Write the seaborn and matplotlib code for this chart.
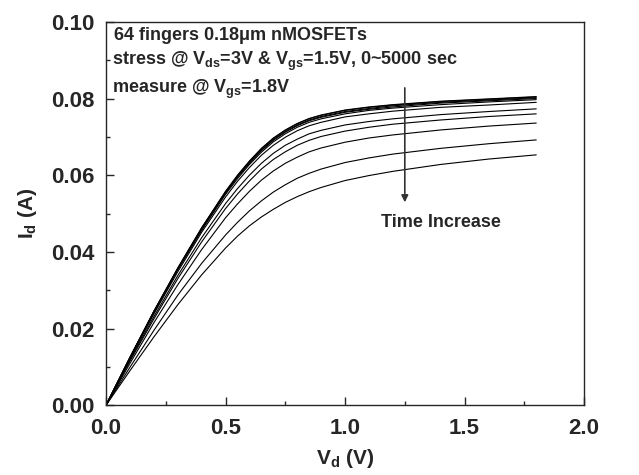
import matplotlib
matplotlib.use('Agg')
import matplotlib.pyplot as plt
import seaborn as sns
import pandas as pd
import numpy as np
from matplotlib.ticker import MultipleLocator

# drain voltage sample points (V)
vd = [0.0, 0.1, 0.2, 0.3, 0.4, 0.5, 0.55, 0.6, 0.65, 0.7, 0.75, 0.8, 0.85, 0.9, 1.0, 1.1, 1.2, 1.4, 1.6, 1.8]

# Id-Vd curves (A), fresh device first, then increasing stress time
id_0 = [0, .0125, .0245, .0358, .0463, .0558, .0600, .0637, .0670, .0697, .0718, .0735, .0748, .0757, .0770, .0778, .0784, .0793, .0799, .0805]
id_1 = [0, .0125, .0245, .0357, .0462, .0557, .0599, .0636, .0669, .0696, .0717, .0734, .0747, .0756, .0769, .0777, .0783, .0792, .0798, .0804]
id_2 = [0, .0124, .0244, .0356, .0461, .0555, .0597, .0634, .0666, .0693, .0714, .0731, .0744, .0753, .0766, .0774, .0781, .0790, .0796, .0802]
id_3 = [0, .0124, .0243, .0355, .0459, .0553, .0595, .0631, .0664, .0691, .0712, .0729, .0742, .0751, .0764, .0772, .0778, .0788, .0794, .0800]
id_4 = [0, .0123, .0241, .0353, .0456, .0550, .0591, .0628, .0660, .0687, .0708, .0725, .0738, .0747, .0760, .0769, .0775, .0784, .0791, .0797]
id_5 = [0, .0122, .0238, .0348, .0451, .0543, .0584, .0620, .0652, .0678, .0699, .0716, .0729, .0738, .0752, .0760, .0767, .0777, .0783, .0790]
id_6 = [0, .0118, .0231, .0338, .0437, .0526, .0565, .0600, .0631, .0657, .0678, .0694, .0708, .0717, .0731, .0740, .0747, .0758, .0766, .0773]
id_7 = [0, .0115, .0225, .0330, .0426, .0513, .0551, .0585, .0616, .0641, .0661, .0678, .0691, .0701, .0715, .0725, .0733, .0744, .0753, .0760]
id_8 = [0, .0109, .0215, .0314, .0406, .0489, .0525, .0558, .0587, .0611, .0631, .0647, .0661, .0671, .0686, .0697, .0705, .0718, .0728, .0736]
id_9 = [0, .0099, .0195, .0287, .0370, .0444, .0477, .0507, .0533, .0556, .0575, .0592, .0605, .0616, .0633, .0645, .0655, .0670, .0682, .0692]
id_10 = [0, .0090, .0178, .0262, .0340, .0410, .0441, .0468, .0491, .0511, .0529, .0544, .0557, .0568, .0586, .0599, .0610, .0628, .0642, .0653]

curves = [id_0, id_1, id_2, id_3, id_4, id_5, id_6, id_7, id_8, id_9, id_10]

sns.set_style('ticks')
plt.rcParams['font.family'] = ['Liberation Sans', 'DejaVu Sans']
plt.rcParams['font.weight'] = 'bold'
plt.rcParams['mathtext.fontset'] = 'custom'
plt.rcParams['mathtext.rm'] = 'Liberation Sans:bold'
plt.rcParams['mathtext.bf'] = 'Liberation Sans:bold'
plt.rcParams['mathtext.it'] = 'Liberation Sans:bold'

# long-form table for seaborn
df = pd.DataFrame({
    'vd': np.tile(vd, len(curves)),
    'id': np.concatenate(curves),
    'curve': np.repeat(np.arange(len(curves)), len(vd)),
})

fig = plt.figure(figsize=(6.39, 4.75), dpi=100)
ax = fig.add_axes([0.166, 0.147, 0.748, 0.807])

sns.lineplot(data=df, x='vd', y='id', hue='curve', units='curve', estimator=None,
             palette=['black'] * len(curves), linewidth=0.8, legend=False, ax=ax)

ax.set_xlim(0, 2.0)
ax.set_ylim(0, 0.10)
ax.xaxis.set_major_locator(MultipleLocator(0.5))
ax.xaxis.set_minor_locator(MultipleLocator(0.25))
ax.yaxis.set_major_locator(MultipleLocator(0.02))
ax.yaxis.set_minor_locator(MultipleLocator(0.01))
ax.xaxis.set_major_formatter(plt.FormatStrFormatter('%.1f'))
ax.yaxis.set_major_formatter(plt.FormatStrFormatter('%.2f'))
ax.tick_params(which='both', direction='in', top=False, right=False, width=1)
ax.tick_params(which='major', length=6, labelsize=16)
ax.tick_params(axis='x', which='major', pad=9)
ax.tick_params(axis='y', which='major', pad=8)
ax.tick_params(which='minor', length=3)
for lbl in ax.get_xticklabels() + ax.get_yticklabels():
    lbl.set_fontweight('bold')
for s in ax.spines.values():
    s.set_linewidth(1.0)

ax.set_xlabel(r'V$_{d}$ (V)', fontsize=15, fontweight='bold', labelpad=6)
ax.set_ylabel(r'I$_{d}$ (A)', fontsize=15, fontweight='bold', labelpad=9)

ax.text(0.027, 0.0953, r'64 fingers 0.18$\mu$m nMOSFETs', fontsize=13, fontweight='bold', va='baseline')
ax.text(0.025, 0.0888, r'stress @ V$_{ds}$=3V & V$_{gs}$=1.5V, 0~5000 sec', fontsize=13, fontweight='bold', va='baseline')
ax.text(0.025, 0.0815, r'measure @ V$_{gs}$=1.8V', fontsize=13, fontweight='bold', va='baseline')

ax.annotate('', xy=(1.25, 0.0522), xytext=(1.25, 0.0835),
            arrowprops=dict(arrowstyle='-|>', color='#333333', lw=1.2, mutation_scale=10))
ax.text(1.40, 0.0465, 'Time Increase', fontsize=13, fontweight='bold', ha='center', va='baseline')

fig.savefig('out.png', dpi=100)
